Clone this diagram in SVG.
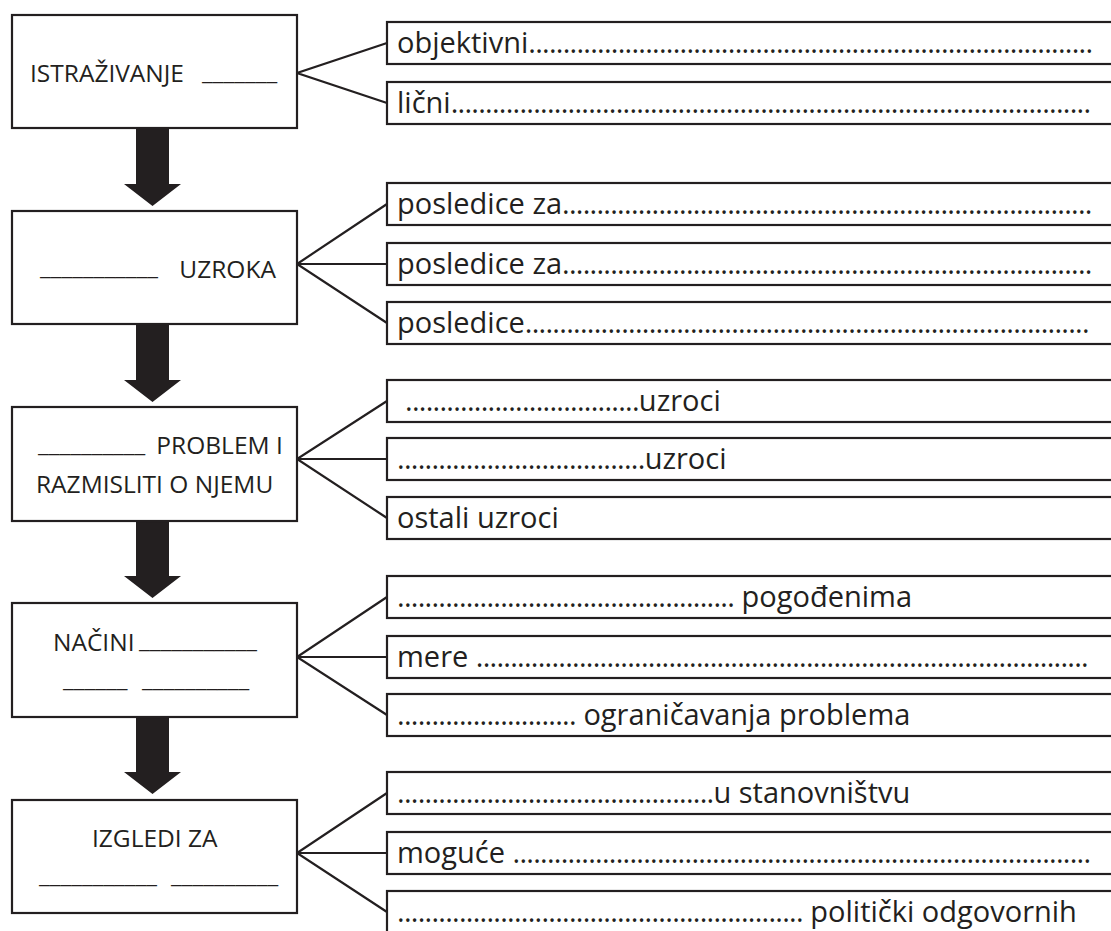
<svg xmlns="http://www.w3.org/2000/svg" width="1111" height="931" viewBox="0 0 1111 931">
<style>
.box{fill:#fff;stroke:#231f20;stroke-width:2.2}
.rb{fill:#fff;stroke:#231f20;stroke-width:2.2}
.con{fill:none;stroke:#231f20;stroke-width:2.2}
.arr{fill:#231f20}
.lt{font-family:"Open Sans","Noto Sans",sans-serif;font-size:24.5px;fill:#231f20;white-space:pre}
.rt{font-family:"Open Sans","Noto Sans",sans-serif;font-size:29px;fill:#231f20;white-space:pre}
.d{letter-spacing:-0.74px}
</style>
<rect width="1111" height="931" fill="#fff"/>
<g id="connectors">
<polygon class="arr" points="136,127 169,127 169,184 181,184 152.5,206 124,184 136,184"/>
<polygon class="arr" points="136,323 169,323 169,380 181,380 152.5,402 124,380 136,380"/>
<polygon class="arr" points="136,520 169,520 169,576 181,576 152.5,598 124,576 136,576"/>
<polygon class="arr" points="136,716 169,716 169,772 181,772 152.5,794 124,772 136,772"/>
<polyline class="con" points="387,43 297,73 387,103"/>
<polyline class="con" points="387,204 297,264 387,323"/>
<line class="con" x1="297" y1="264" x2="387" y2="264"/>
<polyline class="con" points="387,401 297,459 387,518"/>
<line class="con" x1="297" y1="459" x2="387" y2="459"/>
<polyline class="con" points="387,597 297,657 387,715"/>
<line class="con" x1="297" y1="657" x2="387" y2="657"/>
<polyline class="con" points="387,793 297,853 387,912"/>
<line class="con" x1="297" y1="853" x2="387" y2="853"/>
</g>
<g id="n1">
<rect class="box" x="12" y="15" width="285" height="113"/>
<text class="lt" x="30" y="82">ISTRAŽIVANJE <tspan x="202" dy="-2">_______</tspan></text>
</g>
<g id="n2">
<rect class="box" x="12" y="211" width="285" height="113"/>
<text class="lt" x="40" y="275">___________<tspan x="173" dy="3"> UZROKA</tspan></text>
</g>
<g id="n3">
<rect class="box" x="12" y="407" width="285" height="114"/>
<text class="lt" x="38" y="452">__________<tspan x="150" dy="2"> PROBLEM I</tspan></text>
<text class="lt" x="36" y="493">RAZMISLITI O NJEMU</text>
</g>
<g id="n4">
<rect class="box" x="12" y="603" width="285" height="114"/>
<text class="lt" x="53" y="651">NAČINI <tspan x="139" dy="-3">___________</tspan></text>
<text class="lt" x="63" y="687">______ <tspan x="142">__________</tspan></text>
</g>
<g id="n5">
<rect class="box" x="12" y="800" width="285" height="113"/>
<text class="lt" x="92" y="847">IZGLEDI ZA</text>
<text class="lt" x="39" y="883">___________ <tspan x="171">__________</tspan></text>
</g>
<g id="r1a"><rect class="rb" x="387" y="22" width="740" height="42"/>
<text class="rt" x="397" y="53">objektivni<tspan class="d">..................................................................................</tspan></text></g>
<g id="r1b"><rect class="rb" x="387" y="82" width="740" height="42"/>
<text class="rt" x="397" y="113">lični<tspan class="d">.............................................................................................</tspan></text></g>
<g id="r2a"><rect class="rb" x="387" y="183" width="740" height="42"/>
<text class="rt" x="397" y="214">posledice za<tspan class="d">.............................................................................</tspan></text></g>
<g id="r2b"><rect class="rb" x="387" y="243" width="740" height="42"/>
<text class="rt" x="397" y="274">posledice za<tspan class="d">.............................................................................</tspan></text></g>
<g id="r2c"><rect class="rb" x="387" y="302" width="740" height="42"/>
<text class="rt" x="397" y="333">posledice<tspan class="d">..................................................................................</tspan></text></g>
<g id="r3a"><rect class="rb" x="387" y="380" width="740" height="42"/>
<text class="rt" x="405" y="411"><tspan class="d">..................................</tspan>uzroci</text></g>
<g id="r3b"><rect class="rb" x="387" y="438" width="740" height="42"/>
<text class="rt" x="397" y="469"><tspan class="d">....................................</tspan>uzroci</text></g>
<g id="r3c"><rect class="rb" x="387" y="497" width="740" height="42"/>
<text class="rt" x="397" y="528">ostali uzroci</text></g>
<g id="r4a"><rect class="rb" x="387" y="576" width="740" height="42"/>
<text class="rt" x="397" y="607"><tspan class="d">.................................................</tspan> pogođenima</text></g>
<g id="r4b"><rect class="rb" x="387" y="636" width="740" height="42"/>
<text class="rt" x="397" y="667">mere <tspan class="d">.........................................................................................</tspan></text></g>
<g id="r4c"><rect class="rb" x="387" y="694" width="740" height="42"/>
<text class="rt" x="397" y="725"><tspan class="d">..........................</tspan> ograničavanja problema</text></g>
<g id="r5a"><rect class="rb" x="387" y="772" width="740" height="42"/>
<text class="rt" x="397" y="803"><tspan class="d">..............................................</tspan>u stanovništvu</text></g>
<g id="r5b"><rect class="rb" x="387" y="832" width="740" height="42"/>
<text class="rt" x="397" y="863">moguće <tspan class="d">....................................................................................</tspan></text></g>
<g id="r5c"><rect class="rb" x="387" y="891" width="740" height="42"/>
<text class="rt" x="397" y="922"><tspan class="d">...........................................................</tspan> politički odgovornih</text></g>
</svg>
